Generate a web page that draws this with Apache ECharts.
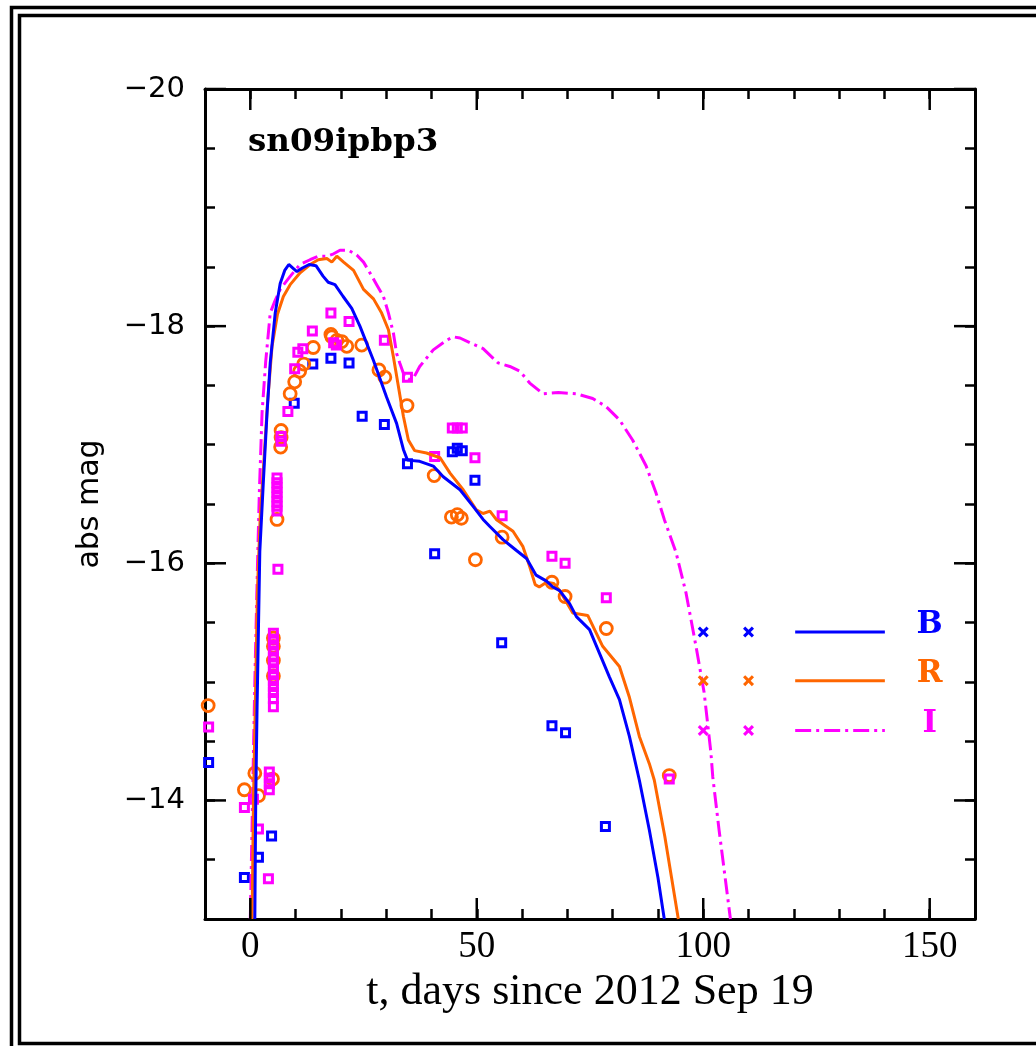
<!DOCTYPE html>
<html>
<head>
<meta charset="utf-8">
<script src="https://cdn.jsdelivr.net/npm/echarts@6/dist/echarts.min.js"></script>
<style>
  html, body { margin: 0; padding: 0; background: #fff; }
  #chart { width: 1036px; height: 1046px; }
</style>
</head>
<body>
<div id="chart"></div>
<script>
// axis ranges (y is inverted: brighter = up)
const tMin = -10, tMax = 160;
const magTop = -20, magBottom = -13;
const majorXTicks = [0, 50, 100, 150];
const majorYTicks = [-20, -18, -16, -14];

// model light curves [t, abs mag]
const bCurve = [
  [1.0, -13.0], [1.2, -14.0], [1.5, -14.8], [2.1, -16.1], [2.9, -16.7], [3.7, -17.27],
  [4.4, -17.69], [5.5, -18.11], [6.6, -18.36], [7.6, -18.47], [8.5, -18.52], [9.4, -18.49],
  [10.3, -18.46], [11.5, -18.49], [13.0, -18.52], [14.5, -18.51], [16.1, -18.42], [17.2, -18.37],
  [18.7, -18.35], [20.5, -18.25], [22.4, -18.15], [24.2, -18.0], [27.2, -17.71], [30.1, -17.40],
  [32.3, -17.18], [33.8, -16.96], [34.7, -16.87], [37.4, -16.86], [40.4, -16.82], [42.6, -16.73],
  [46.3, -16.62], [49.2, -16.48], [51.4, -16.37], [52.9, -16.31], [55.8, -16.20], [58.7, -16.11],
  [61.0, -16.04], [63.1, -15.90], [65.4, -15.85], [66.8, -15.80], [68.3, -15.77], [70.5, -15.66],
  [72.0, -15.55], [74.9, -15.44], [77.1, -15.24], [79.3, -15.04], [81.5, -14.85], [83.7, -14.54],
  [85.9, -14.17], [88.1, -13.75], [90.0, -13.35], [91.4, -13.0]
];
const rCurve = [
  [0.4, -13.0], [0.7, -14.0], [1.0, -14.6], [1.6, -15.8], [2.2, -16.4], [2.9, -16.8],
  [3.8, -17.35], [4.8, -17.83], [6.0, -18.1], [7.3, -18.25], [8.8, -18.35], [11.0, -18.45],
  [13.2, -18.52], [15.0, -18.56], [16.9, -18.57], [18.0, -18.54], [19.1, -18.59], [20.6, -18.54],
  [22.8, -18.47], [25.0, -18.31], [27.2, -18.23], [29.0, -18.11], [30.5, -17.97], [31.6, -17.74],
  [32.7, -17.49], [33.8, -17.24], [34.9, -17.04], [36.3, -16.95], [38.9, -16.93], [41.9, -16.89],
  [44.1, -16.76], [47.0, -16.62], [49.9, -16.45], [51.4, -16.42], [52.9, -16.44], [54.3, -16.37],
  [58.0, -16.27], [60.2, -16.14], [61.7, -15.97], [62.9, -15.82], [63.8, -15.80], [65.4, -15.84],
  [67.0, -15.83], [68.3, -15.77], [71.2, -15.58], [74.5, -15.56], [77.8, -15.30], [81.5, -15.13],
  [83.7, -14.87], [85.9, -14.54], [88.1, -14.31], [89.2, -14.17], [91.5, -13.7], [93.0, -13.35],
  [94.5, -13.0]
];
const iCurve = [
  [0.0, -13.0], [0.5, -14.0], [1.0, -15.0], [1.6, -16.0], [2.0, -16.6], [2.6, -17.27],
  [3.4, -17.7], [4.4, -18.11], [5.3, -18.2], [6.6, -18.31], [8.8, -18.42], [11.0, -18.52],
  [13.2, -18.56], [15.0, -18.59], [16.9, -18.59], [18.4, -18.61], [19.8, -18.64], [21.7, -18.64],
  [23.5, -18.60], [25.0, -18.54], [26.4, -18.45], [27.9, -18.35], [29.4, -18.25], [30.5, -18.11],
  [31.6, -17.94], [32.3, -17.77], [33.0, -17.69], [34.1, -17.57], [35.2, -17.55], [36.0, -17.56],
  [37.4, -17.66], [40.4, -17.80], [43.3, -17.88], [44.8, -17.91], [46.3, -17.90], [48.5, -17.86],
  [51.4, -17.81], [54.7, -17.69], [57.3, -17.66], [59.5, -17.62], [61.7, -17.52], [64.6, -17.43],
  [68.0, -17.44], [72.0, -17.43], [75.6, -17.39], [78.6, -17.32], [81.5, -17.21], [84.4, -17.04],
  [87.4, -16.82], [89.6, -16.59], [91.4, -16.37], [94.0, -16.09], [96.2, -15.75], [98.4, -15.30],
  [100.2, -14.91], [101.7, -14.40], [102.1, -14.20], [103.5, -13.75], [106.0, -13.0]
];

// observed photometry [t, abs mag]
const bPoints = [
  [-9.2, -14.32], [-1.3, -13.35], [1.8, -13.52], [4.7, -13.70], [9.7, -17.35], [13.8, -17.68],
  [17.8, -17.73], [21.8, -17.69], [24.7, -17.24], [29.6, -17.17], [34.7, -16.84], [40.7, -16.08],
  [44.6, -16.94], [45.7, -16.97], [46.8, -16.95], [49.6, -16.70], [55.5, -15.33], [66.6, -14.63],
  [69.6, -14.57], [78.4, -13.78]
];
const rPoints = [
  [-9.3, -14.80], [-1.3, -14.09], [1.0, -14.23], [1.8, -14.04], [4.9, -14.18],
  [5.1, -15.37], [5.1, -15.30], [5.1, -15.18], [5.1, -15.05], [5.9, -16.37],
  [6.8, -17.12], [6.8, -17.06], [6.7, -16.98], [8.8, -17.43], [9.8, -17.53], [10.9, -17.62],
  [11.8, -17.68], [13.9, -17.82], [17.8, -17.93], [18.0, -17.91], [19.1, -17.88], [20.2, -17.87],
  [21.3, -17.83], [24.6, -17.84], [28.4, -17.63], [29.7, -17.57], [34.6, -17.33], [40.6, -16.74],
  [44.4, -16.39], [45.7, -16.41], [46.6, -16.38], [49.7, -16.03], [55.6, -16.22], [66.6, -15.84],
  [69.5, -15.72], [78.6, -15.45], [92.5, -14.21]
];
const iPoints = [
  [-9.2, -14.62], [-1.3, -13.94], [0.7, -14.01], [1.8, -13.76], [4.0, -13.34],
  [4.2, -14.24], [4.2, -14.19], [4.2, -14.14], [4.2, -14.09],
  [5.1, -15.41], [5.1, -15.36], [5.1, -15.31], [5.1, -15.26], [5.1, -15.21], [5.1, -15.16],
  [5.1, -15.11], [5.1, -15.06], [5.1, -15.01], [5.1, -14.96], [5.1, -14.91], [5.1, -14.86],
  [5.1, -14.79], [6.1, -15.95],
  [5.9, -16.72], [5.9, -16.68], [5.9, -16.64], [5.9, -16.60], [5.9, -16.56], [5.9, -16.52],
  [5.9, -16.48], [5.9, -16.44], [6.8, -17.07], [6.8, -17.03],
  [8.3, -17.28], [9.8, -17.64], [10.5, -17.78], [11.6, -17.81], [13.7, -17.96], [17.8, -18.11],
  [18.4, -17.86], [19.0, -17.84], [21.8, -18.04], [29.6, -17.88], [34.7, -17.57], [40.7, -16.90],
  [44.6, -17.14], [45.7, -17.14], [46.8, -17.14], [49.6, -16.89], [55.6, -16.40], [66.6, -16.06],
  [69.5, -16.00], [78.6, -15.71], [92.5, -14.18]
];

// legend samples drawn inside the plot, in data units
const legendBands = ['B', 'R', 'I'];
const legendRowMag = [-15.42, -15.01, -14.59];
const legendCrossT = [100, 110];
const legendLineT = [120.3, 140.1];

const BLUE = '#0000ff', ORANGE = '#ff6600', MAGENTA = '#ff00ff';
const bandColors = [BLUE, ORANGE, MAGENTA];
const dashDot = [16, 5, 3, 5];
const crossPath = 'path://M0,2 L2,0 L5,3 L8,0 L10,2 L7,5 L10,8 L8,10 L5,7 L2,10 L0,8 L3,5 Z';

const chart = echarts.init(document.getElementById('chart'));

const axisCommon = {
  type: 'value',
  axisLine: { onZero: false, lineStyle: { color: '#000', width: 3 } },
  axisTick: { inside: true, length: 10, lineStyle: { color: '#000', width: 2.5 } },
  splitLine: { show: false }
};

function scatter(data, symbol, size, color, bw) {
  return {
    type: 'scatter', data: data, symbol: symbol, symbolSize: size, z: 3,
    itemStyle: { color: 'transparent', borderColor: color, borderWidth: bw, opacity: 1 },
    emphasis: { disabled: true }
  };
}
function line(data, color, type, z) {
  return {
    type: 'line', data: data, showSymbol: false, symbol: 'none', z: z,
    lineStyle: { color: color, width: 3, type: type },
    emphasis: { disabled: true }
  };
}

const series = [
  scatter(bPoints, 'rect', 8, BLUE, 3),
  scatter(rPoints, 'circle', 12, ORANGE, 2.8),
  scatter(iPoints, 'rect', 8, MAGENTA, 3),
  line(iCurve, MAGENTA, dashDot, 4),
  line(rCurve, ORANGE, 'solid', 5),
  line(bCurve, BLUE, 'solid', 6)
];

legendRowMag.forEach((m, k) => {
  series.push({
    type: 'scatter', symbol: crossPath, symbolSize: 11, z: 7,
    data: legendCrossT.map(t => [t, m]),
    itemStyle: { color: bandColors[k], opacity: 1 },
    emphasis: { disabled: true }
  });
  series.push(line(legendLineT.map(t => [t, m]), bandColors[k], k === 2 ? dashDot : 'solid', 7));
});

// long ticks at the labelled values
series.push({
  type: 'custom', silent: true, clip: false, z: 10,
  data: majorXTicks.map(v => [v, magBottom]),
  renderItem: (params, api) => {
    const b = api.coord([api.value(0), magBottom]);
    const t = api.coord([api.value(0), magTop]);
    const st = { stroke: '#000', lineWidth: 2.5 };
    return { type: 'group', children: [
      { type: 'line', shape: { x1: b[0], y1: b[1], x2: b[0], y2: b[1] - 21 }, style: st },
      { type: 'line', shape: { x1: t[0], y1: t[1], x2: t[0], y2: t[1] + 21 }, style: st }
    ] };
  }
});
series.push({
  type: 'custom', silent: true, clip: false, z: 10,
  data: majorYTicks.map(v => [tMin, v]),
  renderItem: (params, api) => {
    const l = api.coord([tMin, api.value(1)]);
    const r = api.coord([tMax, api.value(1)]);
    const st = { stroke: '#000', lineWidth: 2.5 };
    return { type: 'group', children: [
      { type: 'line', shape: { x1: l[0], y1: l[1], x2: l[0] + 21, y2: l[1] }, style: st },
      { type: 'line', shape: { x1: r[0], y1: r[1], x2: r[0] - 21, y2: r[1] }, style: st }
    ] };
  }
});

const option = {
  animation: false,
  backgroundColor: '#fff',
  title: {
    text: 'sn09ipbp3', left: 243, top: 121,
    textStyle: { fontFamily: 'DejaVu Serif', fontWeight: 'bold', fontSize: 32.5, color: '#000' }
  },
  grid: { left: 205, right: 61, top: 89, bottom: 127 },
  xAxis: [
    Object.assign({}, axisCommon, {
      min: tMin, max: tMax, interval: 10, position: 'bottom',
      axisLabel: {
        margin: 10, color: '#000', fontFamily: 'Liberation Serif', fontSize: 37,
        formatter: v => (v % 50 === 0 ? String(v) : '')
      },
      name: 't, days since 2012 Sep 19', nameLocation: 'middle', nameGap: 49,
      nameTextStyle: { color: '#000', fontFamily: 'Liberation Serif', fontSize: 44 }
    }),
    Object.assign({}, axisCommon, {
      min: tMin, max: tMax, interval: 10, position: 'top', axisLabel: { show: false }
    })
  ],
  yAxis: [
    Object.assign({}, axisCommon, {
      min: magTop, max: magBottom, interval: 0.5, inverse: true, position: 'left',
      axisLabel: {
        margin: 20, color: '#000', fontFamily: 'DejaVu Sans', fontSize: 29,
        formatter: v => (v % 2 === 0 ? '\u2212' + Math.abs(v) : '')
      },
      name: 'abs mag', nameLocation: 'middle', nameGap: 100,
      nameTextStyle: { color: '#000', fontFamily: 'DejaVu Sans', fontSize: 30 }
    }),
    Object.assign({}, axisCommon, {
      min: magTop, max: magBottom, interval: 0.5, inverse: true, position: 'right',
      axisLabel: { show: false }
    })
  ],
  series: series
};

chart.setOption(option);

// frame and legend letters
const labelT = 150;
const graphics = [
  { type: 'rect', silent: true, shape: { x: 11.5, y: 7.5, width: 1100, height: 1100 },
    style: { fill: 'none', stroke: '#000', lineWidth: 3.5 } },
  { type: 'rect', silent: true, shape: { x: 19.5, y: 15.5, width: 1100, height: 1028 },
    style: { fill: 'none', stroke: '#000', lineWidth: 3.5 } }
];
legendBands.forEach((b, k) => {
  const p = chart.convertToPixel({ xAxisIndex: 0, yAxisIndex: 0 }, [labelT, legendRowMag[k]]);
  graphics.push({
    type: 'text', silent: true, x: p[0], y: p[1] - 7,
    style: { text: b, fill: bandColors[k], fontFamily: 'DejaVu Serif', fontWeight: 'bold',
             fontSize: 31, align: 'center', verticalAlign: 'middle' }
  });
});
chart.setOption({ graphic: graphics });
</script>
</body>
</html>
